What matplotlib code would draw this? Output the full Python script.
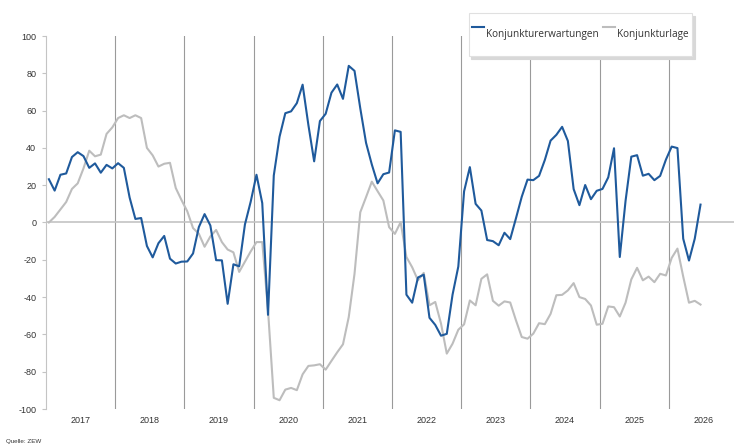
import numpy as np
import matplotlib.pyplot as plt

plt.rcParams['font.family'] = ['Liberation Sans', 'DejaVu Sans']
plt.rcParams['axes.unicode_minus'] = False

# ZEW Eurozone, monatlich ab Januar 2017
jahre = ["2017", "2018", "2019", "2020", "2021", "2022", "2023", "2024", "2025", "2026"]

erwartungen = [
    23.2, 17.1, 25.6, 26.3, 35.1, 37.7, 35.6, 29.3, 31.7, 26.7, 30.9, 29.0,
    31.8, 29.3, 13.4, 1.9, 2.4, -12.6, -18.7, -11.1, -7.2, -19.4, -22.0, -21.0,
    -20.9, -16.6, -2.5, 4.5, -1.6, -20.2, -20.3, -43.6, -22.4, -23.5, -1.0, 11.2,
    25.6, 10.4, -49.5, 25.2, 46.0, 58.6, 59.6, 64.0, 73.9, 52.3, 32.8, 54.4,
    58.3, 69.6, 74.0, 66.3, 84.0, 81.3, 61.2, 42.7, 31.1, 21.0, 25.9, 26.8,
    49.4, 48.6, -38.7, -43.0, -29.5, -28.0, -51.1, -54.9, -60.7, -59.7, -38.7, -23.6,
    16.7, 29.7, 10.0, 6.4, -9.4, -10.0, -12.2, -5.5, -8.9, 2.3, 13.8, 23.0,
    22.7, 25.0, 33.5, 43.9, 47.0, 51.3, 43.7, 17.9, 9.3, 20.1, 12.5, 17.0,
    18.0, 24.2, 39.8, -18.5, 11.6, 35.3, 36.1, 25.1, 26.1, 22.7, 25.0, 33.7,
    40.7, 39.9, -8.7, -20.4, -8.7, 9.6,
]

lage = [
    0.0, 3.0, 7.0, 11.0, 18.0, 21.0, 29.0, 38.5, 35.5, 36.4, 47.5, 51.0,
    56.0, 57.5, 56.0, 57.5, 56.0, 40.0, 36.0, 30.0, 31.5, 32.0, 18.5, 12.0,
    6.0, -3.0, -6.0, -13.0, -7.5, -4.0, -10.5, -14.5, -16.0, -26.5, -21.0, -15.5,
    -10.5, -10.5, -47.0, -94.0, -95.3, -89.6, -88.7, -89.9, -81.4, -76.9, -76.6, -76.0,
    -78.9, -74.2, -69.6, -65.3, -50.7, -27.5, 5.5, 13.6, 21.9, 16.8, 11.8, -2.5,
    -6.1, 0.2, -18.5, -24.0, -31.0, -27.0, -44.4, -42.6, -54.2, -70.3, -65.0, -57.5,
    -54.6, -41.8, -44.4, -30.2, -27.8, -42.0, -44.6, -42.3, -42.9, -52.5, -61.4, -62.3,
    -59.6, -54.0, -54.5, -49.0, -39.0, -38.8, -36.4, -32.5, -40.0, -41.0, -44.5, -54.8,
    -54.3, -45.0, -45.4, -50.4, -43.0, -30.5, -24.3, -31.0, -29.0, -32.0, -27.5, -28.4,
    -19.0, -14.0, -29.0, -43.0, -42.0, -44.0,
]

W, H = 734, 448
fig = plt.figure(figsize=(W / 100, H / 100), dpi=100)
ax = fig.add_axes([46 / W, 39 / H, 692 / W, 373 / H])

monate = np.arange(len(erwartungen)) + 0.5

# Jahrestrenner und Nulllinie
for k in range(1, len(jahre)):
    ax.axvline(12 * k, color='#9a9a9a', lw=0.8, zorder=1)
ax.axhline(0, color='#c4c4c4', lw=1.2, zorder=1)

ax.plot(monate, erwartungen, color='#1f5a9c', lw=1.5, label='Konjunkturerwartungen', zorder=3)
ax.plot(monate, lage, color='#bdbdbd', lw=1.5, label='Konjunkturlage', zorder=2)

ax.set_xlim(0, 12 * len(jahre))
ax.set_ylim(-100, 100)
ax.set_yticks(np.arange(-100, 101, 20))
ax.tick_params(axis='y', labelsize=6.5, colors='#c4c4c4', labelcolor='#333333',
               length=3, width=0.8, pad=4)

ax.set_xticks([12 * k + 6 for k in range(len(jahre))])
ax.set_xticklabels(jahre)
ax.tick_params(axis='x', labelsize=6.5, labelcolor='#333333', length=0, pad=5)

for s in ['top', 'right', 'bottom']:
    ax.spines[s].set_visible(False)
ax.spines['left'].set_color('#c4c4c4')
ax.spines['left'].set_linewidth(0.8)

leg = ax.legend(loc='upper right', bbox_to_anchor=(692 / W, 1 - 13 / H),
                bbox_transform=fig.transFigure, ncol=2,
                frameon=True, fancybox=False, borderaxespad=0, borderpad=0.35,
                handlelength=1.2, handleheight=5.2, handletextpad=0.15,
                columnspacing=0.5,
                shadow={'color': '#d8d8d8', 'alpha': 1.0},
                prop={'family': ['Open Sans', 'DejaVu Sans'], 'size': 7.2})
leg.get_frame().set_edgecolor('#e0e0e0')
leg.get_frame().set_linewidth(0.8)
for t in leg.get_texts():
    t.set_color('#333333')

fig.text(6 / W, 1 - 441 / H, 'Quelle: ZEW', fontsize=4.5, color='#333333', va='center')

fig.savefig('out.png', dpi=100)
